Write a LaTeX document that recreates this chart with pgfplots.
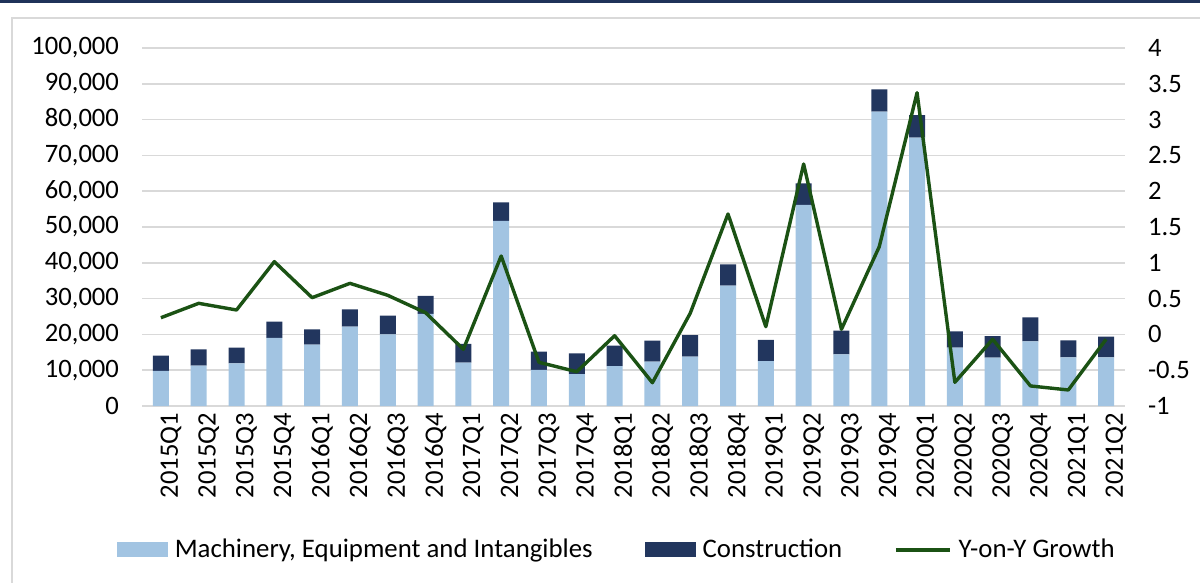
\documentclass[border=0pt]{standalone}
\usepackage{fontspec}
\setmainfont{Carlito}
\usepackage{pgfplots}
\pgfplotsset{compat=1.18}

\definecolor{mach}{HTML}{A2C4E2}
\definecolor{constr}{HTML}{22365E}
\definecolor{growth}{HTML}{1B5214}
\definecolor{gridgray}{HTML}{D9D9D9}
\definecolor{topbar}{HTML}{1F3259}

\pgfplotstableread{
x  mach   constr  yoy
0  9780   4270    0.233
1  11260  4570    0.434
2  11920  4370    0.341
3  19000  4550    1.016
4  17140  4280    0.513
5  22160  4840    0.713
6  20020  5210    0.546
7  25700  5030    0.303
8  12100  5220   -0.208
9  51680  5210    1.095
10 10060  5110   -0.390
11 8940   5770   -0.521
12 11170  5680   -0.018
13 12380  5870   -0.675
14 13780  6050    0.295
15 33610  5960    1.682
16 12570  5870    0.108
17 56150  6050    2.380
18 14430  6610    0.071
19 82220  6240    1.225
20 74950  6330    3.376
21 16290  4570   -0.669
22 13500  6050   -0.068
23 18070  6710   -0.720
24 13590  4760   -0.776
25 13590  5770   -0.068
}\datatable

\newcommand{\quarters}{2015Q1,2015Q2,2015Q3,2015Q4,2016Q1,2016Q2,2016Q3,2016Q4,
  2017Q1,2017Q2,2017Q3,2017Q4,2018Q1,2018Q2,2018Q3,2018Q4,
  2019Q1,2019Q2,2019Q3,2019Q4,2020Q1,2020Q2,2020Q3,2020Q4,2021Q1,2021Q2}

\pgfplotsset{
  common/.style={
    at={(71pt,-203pt)}, anchor=south west,
    scale only axis, width=491.5pt, height=179pt,
    xmin=-0.5, xmax=25.5,
    axis line style={draw=none},
    major tick length=0pt,
    tick style={draw=none},
    font=\fontsize{13.3}{15}\selectfont,
    /pgf/number format/assume math mode=true,
  },
}

\begin{document}
\begin{tikzpicture}
\useasboundingbox (0,0) rectangle (600pt,-291.5pt);
% frame
\fill[topbar] (0,0) rectangle (600pt,-1.3pt);
\draw[gridgray, line width=0.8pt] (6pt,-291.5pt) -- (6pt,-9pt) -- (600pt,-9pt);

\begin{axis}[common,
    ybar stacked, bar width=8pt,
    ymin=0, ymax=100000,
    ytick={0,10000,...,100000},
    scaled y ticks=false,
    /pgf/number format/1000 sep={,},
    /pgf/number format/fixed,
    yticklabel style={xshift=-8pt},
    ymajorgrids, grid style={gridgray, line width=0.75pt},
    xtick={0,...,25},
    xticklabels/.expanded={\quarters},
    xticklabel style={rotate=90, anchor=east, yshift=-5pt},
    legend columns=3,
    legend style={draw=none, fill=none, at={(0.484,-0.402)}, anchor=center,
      font=\fontsize{13.4}{15}\selectfont,
      /tikz/every even column/.append style={column sep=24pt},
      /tikz/every odd column/.append style={column sep=1.5pt}},
  ]
  \addplot[fill=mach, draw=none,
    legend image code/.code={\fill[mach] (0pt,-3.75pt) rectangle (25.5pt,3.75pt);}]
    table[x=x, y=mach] {\datatable};
  \addlegendentry{Machinery, Equipment and Intangibles}
  \addplot[fill=constr, draw=none,
    legend image code/.code={\fill[constr] (0pt,-3.75pt) rectangle (25.5pt,3.75pt);}]
    table[x=x, y=constr] {\datatable};
  \addlegendentry{Construction}
  \addlegendimage{legend image code/.code={\draw[growth, line width=1.7pt] (0pt,0pt) -- (27pt,0pt);}}
  \addlegendentry{Y-on-Y Growth}
\end{axis}

\begin{axis}[common,
    axis y line*=right, axis x line=none,
    ymin=-1, ymax=4,
    ytick={-1,-0.5,0,0.5,1,1.5,2,2.5,3,3.5,4},
    yticklabel style={xshift=8pt},
  ]
  \addplot[growth, line width=1.7pt, line join=round, mark=none]
    table[x=x, y=yoy] {\datatable};
\end{axis}
\end{tikzpicture}
\end{document}
